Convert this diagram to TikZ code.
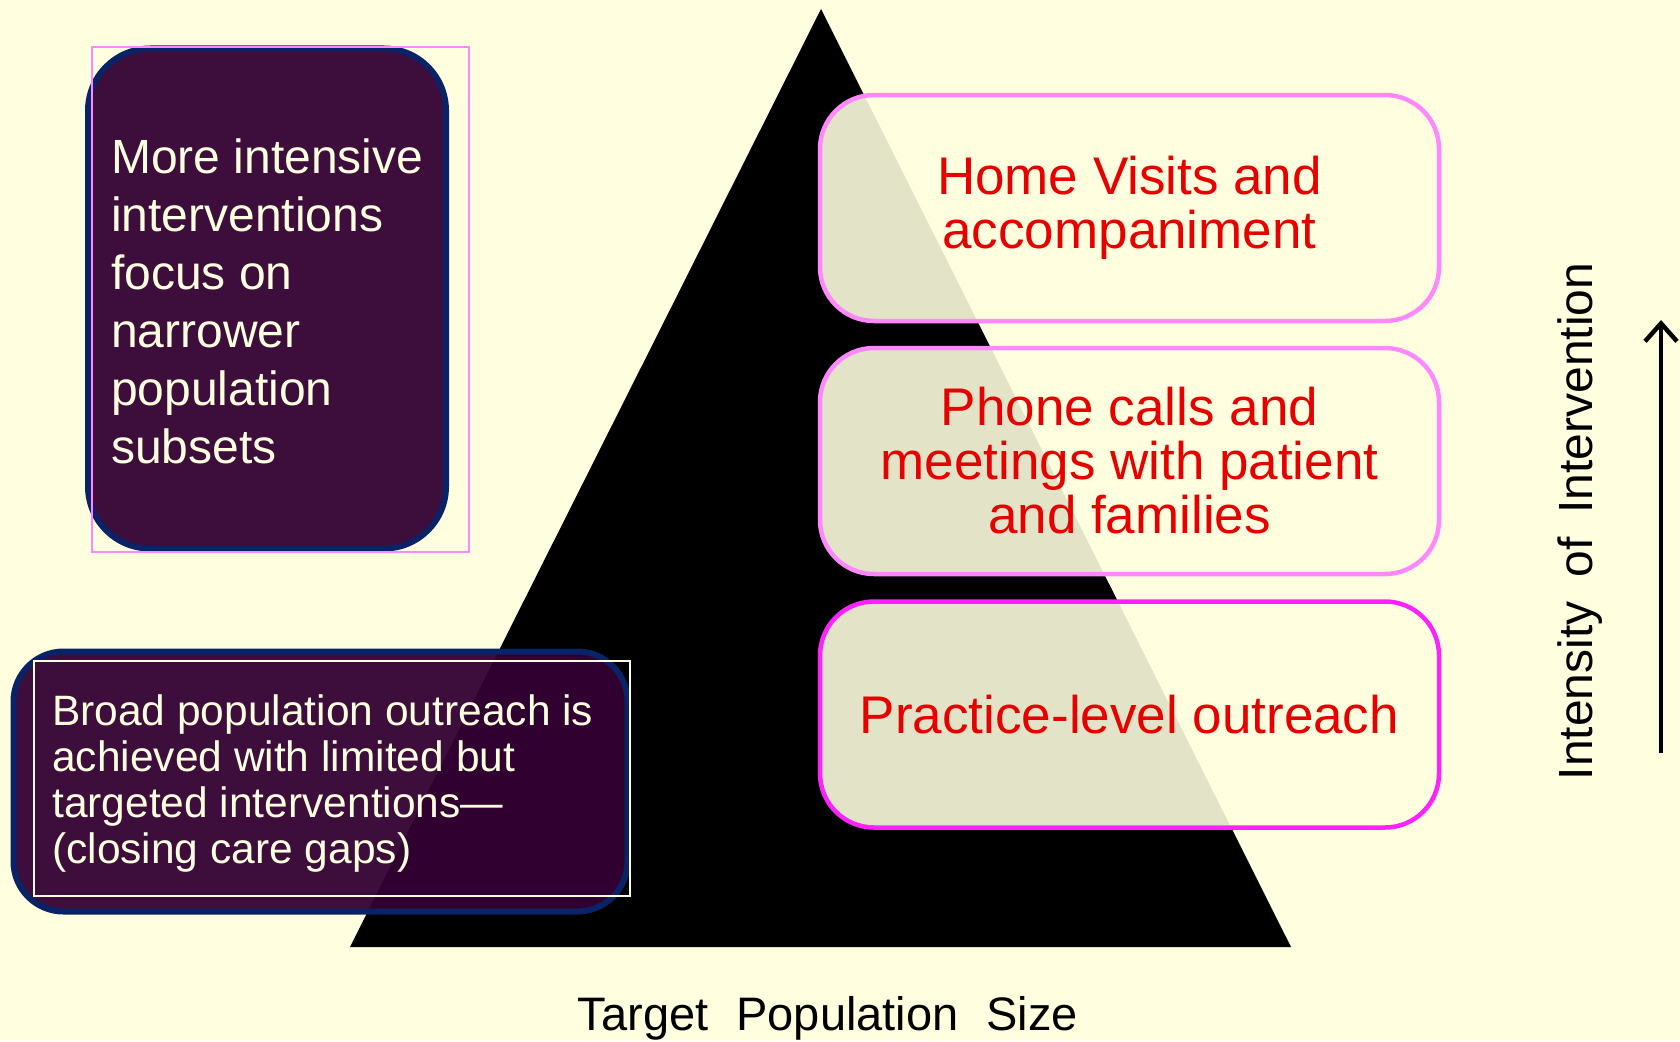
\documentclass[tikz,border=0pt]{standalone}
\usepackage{fontspec}
\setmainfont{Liberation Sans}
\usetikzlibrary{arrows.meta}
\definecolor{bgc}{HTML}{FFFFE0}
\definecolor{purp}{HTML}{330033}
\definecolor{navy}{HTML}{0A2266}
\definecolor{cream}{HTML}{FFFFE0}
\definecolor{pinkA}{HTML}{FF88FF}
\definecolor{pinkB}{HTML}{FF22FF}
\definecolor{redt}{HTML}{E60000}
\begin{document}
\begin{tikzpicture}[x=1pt,y=-1pt,
  darkbox/.style={shape=rectangle, fill=purp, fill opacity=0.95, draw=navy, line width=6pt, inner sep=0pt},
  darktext/.style={text=cream, align=left, inner sep=0pt, anchor=north west},
  lightbox/.style={shape=rectangle, fill=bgc, fill opacity=0.89, draw opacity=1, text opacity=1, line width=4.5pt,
     rounded corners=54pt, minimum width=619pt, minimum height=226pt, inner sep=0pt, text=redt, align=center,
     font=\fontsize{53}{54}\selectfont},
  axislabel/.style={text=black, inner sep=0pt, font=\fontsize{48}{58}\selectfont}
]
\useasboundingbox (0,0) rectangle (1680,1041);
\fill[bgc] (0,0) rectangle (1680,1041);

% pyramid
\coordinate (apex) at (821,9);
\coordinate (bl) at (350,947);
\coordinate (br) at (1291,947);
\fill[black] (apex) -- (bl) -- (br) -- cycle;

% top-left box
\node[darkbox, rounded corners=62pt, minimum width=358pt, minimum height=500pt] (tlbox) at (267,298.5) {};
\draw[pinkA, line width=1.5pt] (92,47) rectangle (469,552);
\node[darktext, font=\fontsize{48}{58}\selectfont] (tltext) at (111,139)
  {More intensive\\interventions\\focus on\\narrower\\population\\subsets};

% bottom-left box
\node[darkbox, rounded corners=50pt, minimum width=614pt, minimum height=260pt] (blbox) at (320.5,781.5) {};
\draw[cream, line width=1.2pt] (34,661) rectangle (630,896);
\node[darktext, font=\fontsize{42.5}{46}\selectfont] (bltext) at (52,694)
  {Broad population outreach is\\achieved with limited but\\targeted interventions—\\(closing care gaps)};

% right boxes
\node[lightbox, draw=pinkA] (home) at (1129.5,208) {Home Visits and\\accompaniment};
\node[lightbox, draw=pinkA] (phone) at (1129.5,461) {Phone calls and\\meetings with patient\\and families};
\node[lightbox, draw=pinkB] (practice) at (1129.5,714.5) {Practice-level outreach};

% axis labels
\node[axislabel, rotate=90, anchor=base] (intensity) at (1592,521.5)
  {Intensity\hspace{24pt}of\hspace{24pt}Intervention};
\coordinate (arrBot) at (1661,753);
\coordinate (arrTop) at (1661,320);
\draw[line width=4.5pt, -{Straight Barb[length=18pt,width=32pt]}] (arrBot) -- (arrTop);

\node[inner sep=0pt, anchor=base, font=\fontsize{47}{50}\selectfont] (target) at (828,1030)
  {Target\hspace{28pt}Population\hspace{28pt}Size};
\end{tikzpicture}
\end{document}
